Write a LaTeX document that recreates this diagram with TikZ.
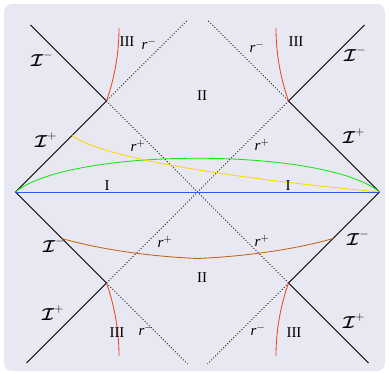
\documentclass[tikz,border=0pt]{standalone}
\usepackage{amsmath}
\usepackage{fontspec}
\setmainfont{Liberation Serif}
\definecolor{bgc}{RGB}{232,232,243}
\definecolor{redc}{RGB}{240,70,30}
\definecolor{yelc}{RGB}{250,215,0}
\definecolor{grnc}{RGB}{20,230,20}
\definecolor{bluc}{RGB}{40,90,240}
\definecolor{brnc}{RGB}{195,100,20}
\begin{document}
\begin{tikzpicture}[x=1pt,y=-1pt,
  solidline/.style={black, line width=0.75pt},
  dotline/.style={black, line width=0.85pt, dotted},
  curve/.style={line width=0.85pt},
  lbl/.style={font=\fontsize{15}{17}\selectfont, inner sep=0pt},
  scri/.style={font=\fontsize{17}{19}\selectfont, inner sep=0pt},
]
\useasboundingbox (0,0) rectangle (389,374);
\fill[bgc, rounded corners=8pt] (4,4) rectangle (385,371);
% key points
\coordinate (C) at (197.5,192);
\coordinate (L) at (15.5,192);
\coordinate (R) at (379.5,192);
\coordinate (UL) at (106.5,101);
\coordinate (UR) at (288.5,101);
\coordinate (LL) at (106.5,283);
\coordinate (LR) at (288.5,283);
\coordinate (TLs) at (30.5,25);
\coordinate (TRs) at (364.5,25);
\coordinate (BLs) at (26.5,363);
\coordinate (BRs) at (368.5,363);
\coordinate (TLd) at (186.5,21);
\coordinate (TRd) at (208.5,21);
\coordinate (BLd) at (187.5,364);
\coordinate (BRd) at (207.5,364);
\coordinate (Ys) at (72,135.5);
\coordinate (BrL) at (62,238.5);
\coordinate (BrM) at (197.5,258.5);
\coordinate (BrR) at (333,238.5);
% dotted horizons
\draw[dotline] (TLd) -- (UL);
\draw[dotline] (TRd) -- (UR);
\draw[dotline] (UL) -- (LR);
\draw[dotline] (UR) -- (LL);
\draw[dotline] (LL) -- (BLd);
\draw[dotline] (LR) -- (BRd);
% solid boundaries
\draw[solidline] (TLs) -- (UL) -- (L) -- (LL) -- (BLs);
\draw[solidline] (TRs) -- (UR) -- (R) -- (LR) -- (BRs);
% curves
\draw[curve, redc] (UL) .. controls (112,85) and (119,60) .. (119,28);
\draw[curve, redc] (UR) .. controls (283,85) and (276,60) .. (276,28);
\draw[curve, redc] (LL) .. controls (112,299) and (119,324) .. (119,356);
\draw[curve, redc] (LR) .. controls (283,299) and (276,324) .. (276,356);
\draw[curve, grnc] (L) .. controls (70,147) and (325,147) .. (R);
\draw[curve, yelc] (Ys) .. controls (105,160) and (250,180) .. (R);
\draw[curve, bluc] (L) -- (R);
\draw[curve, brnc] (BrL) .. controls (105,251) and (160,257) .. (BrM) .. controls (235,257) and (290,251) .. (BrR);
% region labels
\node[lbl] (t1) at (127,42) {III};
\node[lbl] (t2) at (296,42) {III};
\node[lbl] (t3) at (117,333) {III};
\node[lbl] (t4) at (294,333) {III};
\node[lbl] (t5) at (202,96) {II};
\node[lbl] (t6) at (202,278) {II};
\node[lbl] (t7) at (107,186) {I};
\node[lbl] (t8) at (288,186) {I};
% horizon labels
\node[lbl] (h1) at (149,44) {$\textit{r}^{-}$};
\node[lbl] (h2) at (257,47) {$\textit{r}^{-}$};
\node[lbl] (h3) at (138,146) {$\textit{r}^{+}$};
\node[lbl] (h4) at (262,145) {$\textit{r}^{+}$};
\node[lbl] (h5) at (165,242) {$\textit{r}^{+}$};
\node[lbl] (h6) at (262,241) {$\textit{r}^{+}$};
\node[lbl] (h7) at (146,330) {$\textit{r}^{-}$};
\node[lbl] (h8) at (258,330) {$\textit{r}^{-}$};
% scri labels
\node[scri] (s1) at (42,59) {$\boldsymbol{\mathcal{I}}^{-}$};
\node[scri] (s2) at (46,140) {$\boldsymbol{\mathcal{I}}^{+}$};
\node[scri] (s3) at (355,54) {$\boldsymbol{\mathcal{I}}^{-}$};
\node[scri] (s4) at (354,136) {$\boldsymbol{\mathcal{I}}^{+}$};
\node[scri] (s5) at (54,245) {$\boldsymbol{\mathcal{I}}^{-}$};
\node[scri] (s6) at (53,313) {$\boldsymbol{\mathcal{I}}^{+}$};
\node[scri] (s7) at (358,238) {$\boldsymbol{\mathcal{I}}^{-}$};
\node[scri] (s8) at (354,321) {$\boldsymbol{\mathcal{I}}^{+}$};
\end{tikzpicture}
\end{document}
